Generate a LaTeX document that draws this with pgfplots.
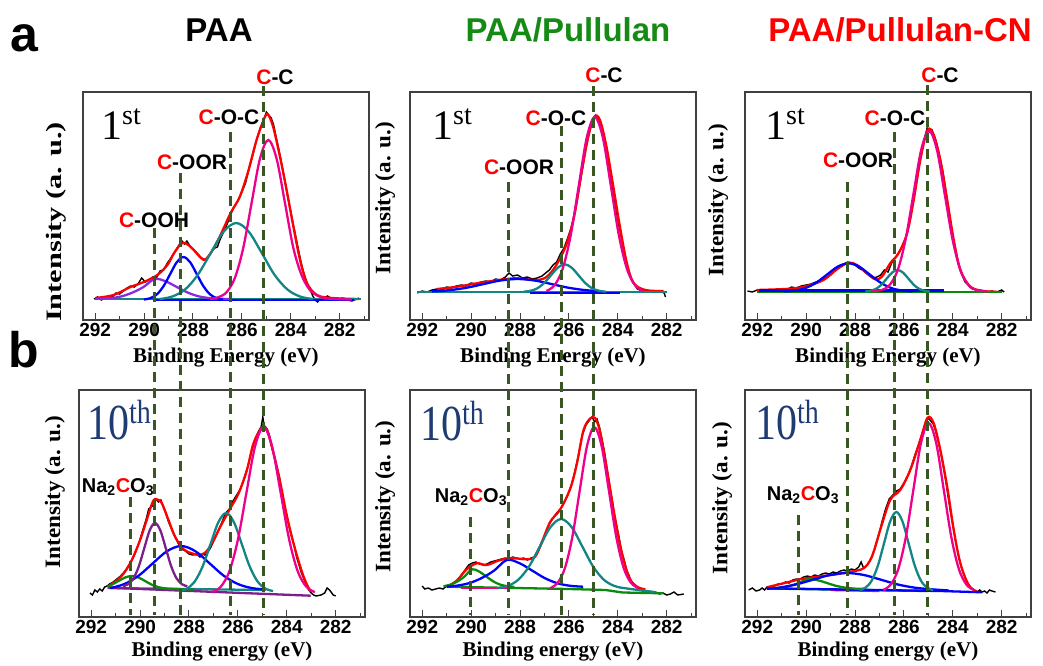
\documentclass[border=0pt]{standalone}
\usepackage{pgfplots}
\pgfplotsset{compat=1.18}
\usepackage{graphicx}
\usepackage{fontspec}
\setmainfont{Liberation Sans}
\newfontfamily\tnr{Liberation Serif}
\definecolor{dgreen}{HTML}{385723}
\definecolor{tealc}{HTML}{138585}
\definecolor{purp}{HTML}{8A2BE2}
\definecolor{dpurp}{HTML}{7B1F8C}
\definecolor{grn}{HTML}{0A8A0A}
\definecolor{ttlgreen}{HTML}{158A15}
\definecolor{navyc}{HTML}{1F3B73}
\newcommand{\lab}[1]{\fontsize{21bp}{21bp}\selectfont\bfseries\textcolor{red}{C}-#1}
\newcommand{\nac}{\fontsize{20bp}{20bp}\selectfont\bfseries Na\textsubscript{2}\textcolor{red}{C}O\textsubscript{3}}
\newcommand{\first}{\tnr\fontsize{42bp}{42bp}\selectfont 1\raisebox{15bp}{\fontsize{28bp}{28bp}\selectfont st}}
\newcommand{\tenth}{\textcolor{navyc}{\scalebox{1}[1.2]{\tnr\fontsize{42bp}{42bp}\selectfont 10\raisebox{14bp}{\fontsize{28bp}{28bp}\selectfont th}}}}
\pgfplotsset{
  panel/.style={scale only axis, width=286bp, height=228bp, x dir=reverse,
    xmin=280.8, xmax=292.5, ymin=0, ymax=228, ytick=\empty,
    xtick={282,284,286,288,290,292}, minor xtick={281,283,285,287,289,291},
    tick align=inside, xtick pos=left, major tick length=7bp, minor tick length=4bp,
    axis line style={line width=1.2bp, black!75}, every tick/.style={line width=1bp, black!75},
    xticklabel style={font=\fontsize{19bp}{19bp}\selectfont\bfseries},
    /pgf/number format/assume math mode=true,
    /pgf/number format/set thousands separator={},
    xlabel style={font=\tnr\bfseries\fontsize{21bp}{21bp}\selectfont, anchor=center},
    ylabel style={font=\tnr\bfseries\fontsize{22bp}{22bp}\selectfont, anchor=center},
    ylabel={\scalebox{1.05}[1]{Intensity (a. u.)}}},
  raw/.style={black, line width=1.4bp},
  fit/.style={line width=2.3bp, smooth, tension=0.55},
  base/.style={line width=2.3bp},
}
\begin{document}
\begin{tikzpicture}
\path[use as bounding box] (0,0) rectangle (1043bp,-666bp);

% ---------- Panel 1: PAA 1st
\begin{axis}[panel, at={(83bp,-92bp)}, anchor=north west,
  xlabel={Binding Energy (eV)}, xlabel style={at={(axis description cs:0.5,-0.165)}},
  ylabel={\scalebox{1.38}[1]{Intensity (a. u.)}},
  ylabel style={at={(axis description cs:-0.092,0.43)}}]
\addplot[raw] coordinates {(292.05,21)(291.9,23)(291.75,20)(291.6,22)(291.45,24)(291.3,23)(291.15,27)(291.0,26)(290.85,29)(290.7,32)(290.55,34)(290.4,33)(290.25,36)(290.1,42)(289.95,38)(289.8,40)(289.65,43)(289.5,42)(289.35,49)(289.2,50)(289.05,57)(288.9,62)(288.75,68)(288.6,74)(288.45,79)(288.35,76)(288.25,79)(288.1,73)(287.95,70)(287.8,66)(287.65,62)(287.5,60)(287.35,64)(287.2,70)(287.1,72)(287.0,73)(286.9,80)(286.75,88)(286.6,96)(286.45,106)(286.3,114)(286.15,120)(286.0,128)(285.85,137)(285.7,152)(285.55,165)(285.4,180)(285.25,192)(285.1,200)(285.0,208)(284.9,205)(284.8,202)(284.7,195)(284.6,183)(284.5,172)(284.4,160)(284.3,147)(284.2,133)(284.1,120)(284.0,108)(283.9,96)(283.8,84)(283.7,72)(283.6,60)(283.5,50)(283.4,42)(283.3,35)(283.2,30)(283.1,24)(283.0,20)(282.9,18)(282.8,21)(282.7,20)(282.5,24)(282.3,21)(282.1,20)(281.9,22)(281.7,20)(281.5,19)(281.3,21)(281.2,22)};
\addplot[red, fit] coordinates {(292.0,22)(291.25,25)(290.56,33)(290.01,38)(289.46,45)(289.05,55)(288.77,67)(288.43,77)(288.09,73)(287.67,62)(287.47,61)(287.12,73)(286.78,90)(286.44,108)(286.09,123)(285.75,148)(285.40,180)(285.06,203)(284.92,205)(284.72,193)(284.44,163)(284.17,130)(283.89,93)(283.62,60)(283.34,37)(282.93,25)(282.31,22)(281.21,21)};
\addplot[tealc, base] coordinates {(292.0,21)(281.14,21)};
\addplot[blue, base] coordinates {(289.6,20)(281.4,20)};
\addplot[purp, fit] coordinates {(292.0,21.1)(291.37,21.9)(290.92,23.7)(290.47,27.5)(290.02,33.1)(289.57,41)(289.12,38.7)(288.67,33.1)(288.22,27.5)(287.77,23.7)(287.32,21.9)(286.87,21.2)(286.4,21)};
\addplot[blue, fit] coordinates {(290.01,20.5)(289.74,21.9)(289.47,25.8)(289.20,34.0)(288.93,46.1)(288.66,57.9)(288.39,63)(288.12,57.9)(287.85,46.1)(287.58,34.0)(287.31,25.8)(287.04,21.9)(286.77,20.5)};
\addplot[tealc, fit] coordinates {(289.38,20.9)(288.86,23.4)(288.33,30.4)(287.81,45)(287.28,66.7)(286.76,88)(286.23,97)(285.71,88)(285.18,66.7)(284.66,45)(284.13,30.4)(283.61,23.4)(283.08,20.9)};
\addplot[magenta, fit] coordinates {(287.3,21)(286.96,22.8)(286.62,28.0)(286.28,42.5)(285.94,72.6)(285.60,117.4)(285.26,161.3)(284.92,180)(284.58,161.3)(284.24,117.4)(283.90,72.6)(283.56,45)(283.22,30)(282.88,24)(282.5,21.5)(281.5,20.5)};
\end{axis}

% ---------- Panel 2: PAA/Pullulan 1st
\begin{axis}[panel, at={(410bp,-92bp)}, anchor=north west,
  xlabel={Binding Energy (eV)}, xlabel style={at={(axis description cs:0.5,-0.165)}},
  ylabel style={at={(axis description cs:-0.087,0.535)}}]
\addplot[raw] coordinates {(292.2,27)(292.0,29)(291.8,28)(291.6,30)(291.4,31)(291.2,30)(291.0,33)(290.8,32)(290.6,34)(290.4,35)(290.2,34)(290.0,37)(289.8,36)(289.6,38)(289.4,39)(289.2,38)(289.0,41)(288.8,40)(288.6,43)(288.45,47)(288.3,44)(288.1,45)(287.9,42)(287.7,43)(287.5,41)(287.3,42)(287.1,44)(286.95,47)(286.8,50)(286.65,55)(286.5,58)(286.35,66)(286.2,72)(286.05,82)(285.9,93)(285.75,108)(285.6,128)(285.45,150)(285.3,172)(285.15,190)(285.0,202)(284.9,205)(284.8,201)(284.7,197)(284.6,188)(284.5,176)(284.4,160)(284.3,145)(284.2,130)(284.1,115)(284.0,100)(283.9,88)(283.8,75)(283.7,62)(283.6,52)(283.5,45)(283.4,38)(283.3,35)(283.2,31)(283.0,29)(282.8,30)(282.6,28)(282.4,29)(282.2,28)(282.1,27)(282.05,23)};
\addplot[red, fit] coordinates {(291.40,31)(290.57,33.3)(289.61,37.3)(288.65,40.7)(288.10,41.7)(287.41,40)(287.0,41.7)(286.65,50)(286.31,64)(286.04,80)(285.76,106.7)(285.49,146.7)(285.21,183)(284.96,203)(284.73,200)(284.46,173)(284.18,133)(283.91,93)(283.63,57)(283.35,37)(282.87,30)(282.12,29)};
\addplot[tealc, base] coordinates {(292.2,28)(282.0,28)};
\addplot[blue, base] coordinates {(287.6,27)(283.9,27)};
\addplot[blue, fit] coordinates {(291.6,28.6)(290.9,29.8)(290.2,32.2)(289.5,35.9)(288.8,39.5)(288.1,41)(287.4,39.5)(286.7,35.9)(286.0,32.2)(285.3,29.8)(284.6,28.6)};
\addplot[tealc, fit] coordinates {(287.85,28.3)(287.57,29.2)(287.29,31.7)(287.01,37.0)(286.73,44.8)(286.45,52.4)(286.17,55.7)(285.89,52.4)(285.61,44.8)(285.33,37.0)(285.05,31.7)(284.77,29.2)(284.49,28.3)};
\addplot[magenta, fit] coordinates {(286.92,29.0)(286.59,34.7)(286.26,50.8)(285.93,84.1)(285.60,133.7)(285.27,182.3)(284.94,203)(284.61,182.3)(284.28,133.7)(283.95,84.1)(283.62,50.8)(283.29,34.7)(282.96,29.0)};
\end{axis}

% ---------- Panel 3: PAA/Pullulan-CN 1st
\begin{axis}[panel, at={(745bp,-92bp)}, anchor=north west,
  xlabel={Binding Energy (eV)}, xlabel style={at={(axis description cs:0.5,-0.165)}},
  ylabel style={at={(axis description cs:-0.094,0.526)}}]
\addplot[raw] coordinates {(292.4,29)(292.2,28)(292.0,30)(291.8,29)(291.6,28)(291.4,30)(291.2,29)(291.0,31)(290.8,30)(290.6,33)(290.4,32)(290.2,34)(290.0,35)(289.8,36)(289.6,38)(289.4,40)(289.2,42)(289.0,45)(288.8,50)(288.6,53)(288.45,56)(288.3,58)(288.15,57)(288.0,55)(287.85,52)(287.7,50)(287.55,47)(287.4,44)(287.25,42)(287.1,43)(286.95,45)(286.8,50)(286.65,48)(286.5,57)(286.35,62)(286.2,68)(286.05,74)(285.9,84)(285.75,100)(285.6,120)(285.45,142)(285.3,165)(285.15,182)(285.05,192)(284.95,188)(284.85,190)(284.7,180)(284.6,170)(284.5,160)(284.4,148)(284.3,132)(284.2,116)(284.1,98)(284.0,84)(283.9,72)(283.8,60)(283.7,50)(283.6,44)(283.5,38)(283.4,36)(283.3,33)(283.2,31)(283.0,30)(282.8,29)(282.6,28)(282.4,29)(282.2,28)(282.0,30)(281.9,28)};
\addplot[red, fit] coordinates {(292.02,30)(290.66,31.3)(289.97,34)(289.29,40)(288.74,50.7)(288.27,57.3)(287.92,55)(287.51,46.7)(287.17,40.7)(286.90,43.3)(286.56,56.7)(286.22,66.7)(285.87,86.7)(285.60,120)(285.33,160)(285.03,190)(284.78,185)(284.51,160)(284.23,120)(283.96,80)(283.69,50)(283.28,33.3)(282.73,29)(282.18,28.3)};
\addplot[grn, base] coordinates {(292.0,28.3)(282.0,28.3)};
\addplot[blue, base] coordinates {(291.93,29.5)(284.35,29.5)};
\addplot[blue, fit] coordinates {(290.88,28.6)(290.445,29.5)(290.01,32.1)(289.575,37.5)(289.14,45.5)(288.705,53.4)(288.27,56.7)(287.835,53.4)(287.40,45.5)(286.965,37.5)(286.53,32.1)(286.095,29.5)(285.66,28.6)};
\addplot[tealc, fit] coordinates {(287.58,28.5)(287.36,29.3)(287.14,31.2)(286.92,35.3)(286.70,41.5)(286.48,47.5)(286.26,50)(286.04,47.5)(285.82,41.5)(285.60,35.3)(285.38,31.2)(285.16,29.3)(284.94,28.5)};
\addplot[magenta, fit] coordinates {(287.3,29)(286.89,30.1)(286.57,35.4)(286.25,50.1)(285.93,80.6)(285.61,125.9)(285.29,170.4)(284.97,189.3)(284.65,170.4)(284.33,125.9)(284.01,80.6)(283.69,50.1)(283.37,35.4)(283.05,30.1)(282.6,28.5)};
\end{axis}

% ---------- Panel 4: PAA 10th
\begin{axis}[panel, height=227bp, ymax=227, at={(79bp,-390bp)}, anchor=north west,
  xlabel={Binding energy (eV)}, xlabel style={at={(axis description cs:0.5,-0.154)}},
  ylabel style={at={(axis description cs:-0.084,0.55)}}]
\addplot[raw] coordinates {(292.05,24)(291.95,22)(291.85,27)(291.75,25)(291.65,28)(291.55,26)(291.45,30)(291.35,31)(291.25,33)(291.1,35)(290.95,38)(290.8,41)(290.65,45)(290.5,50)(290.35,56)(290.2,64)(290.05,74)(289.9,86)(289.75,98)(289.65,108)(289.55,110)(289.45,112)(289.35,118)(289.25,115)(289.15,117)(289.05,110)(288.95,104)(288.85,96)(288.75,90)(288.6,82)(288.45,74)(288.3,68)(288.15,66)(288.0,63)(287.85,62)(287.7,63)(287.55,60)(287.45,63)(287.35,62)(287.2,66)(287.1,70)(286.95,78)(286.8,86)(286.65,95)(286.5,104)(286.35,108)(286.2,116)(286.05,122)(285.9,128)(285.75,138)(285.6,150)(285.45,165)(285.3,178)(285.15,186)(285.05,190)(284.98,200)(284.9,187)(284.8,188)(284.7,181)(284.6,168)(284.5,160)(284.4,150)(284.3,140)(284.2,124)(284.1,112)(284.0,102)(283.9,90)(283.8,80)(283.7,72)(283.6,60)(283.5,52)(283.4,44)(283.3,38)(283.2,32)(283.1,27)(283.0,24)(282.9,22)(282.8,21)(282.6,22)(282.45,24)(282.35,29)(282.25,27)(282.1,22)(282.0,21)};
\addplot[red, fit] coordinates {(291.34,30.3)(291.02,35.3)(290.68,43.3)(290.34,57)(290.0,77)(289.73,97)(289.48,115.3)(289.32,117.7)(289.11,113.7)(288.84,97)(288.57,80.3)(288.22,67.7)(287.88,63.7)(287.61,62)(287.34,64.3)(287.06,73.7)(286.72,90.3)(286.31,108.7)(285.97,123.7)(285.63,147)(285.36,173.7)(285.01,189.7)(284.81,187)(284.54,163.7)(284.26,133.7)(283.99,100.3)(283.65,67)(283.31,40.3)(283.03,25.3)};
\addplot[tealc, base] coordinates {(291.3,29)(285.0,27)};
\addplot[dpurp, base] coordinates {(291.33,29.3)(283.02,21.3)};
\addplot[grn, fit] coordinates {(291.3,30)(291.165,32.2)(290.89,35.9)(290.615,39.5)(290.34,41)(290.065,39.5)(289.79,35.9)(289.515,32.2)(289.24,29.8)(288.965,28.6)(288.69,28.1)(287.8,27.5)};
\addplot[blue, fit] coordinates {(291.22,28.9)(290.64,33.0)(290.06,41.3)(289.48,53.7)(288.90,65.8)(288.32,71)(287.74,65.8)(287.16,53.7)(286.58,41.3)(286.00,33.0)(285.42,28.9)(284.84,27.5)};
\addplot[dpurp, fit] coordinates {(290.71,30.7)(290.49,32.8)(290.27,38.7)(290.05,50.8)(289.83,68.8)(289.61,86.5)(289.39,94)(289.17,86.5)(288.95,68.8)(288.73,50.8)(288.51,38.7)(288.29,32.8)(288.07,30.7)};
\addplot[tealc, fit] coordinates {(288.40,25.9)(288.08,28.5)(287.76,35.7)(287.44,50.7)(287.12,72.9)(286.80,94.7)(286.48,104)(286.16,94.7)(285.84,72.9)(285.52,50.7)(285.20,35.7)(284.88,28.5)(284.56,25.9)};
\addplot[magenta, fit] coordinates {(287.05,24.9)(286.70,30.3)(286.35,45.6)(286.00,77.2)(285.65,124.3)(285.30,170.4)(284.95,190)(284.60,170.4)(284.25,124.3)(283.90,77.2)(283.55,45.6)(283.20,30.3)(282.85,24.9)};
\end{axis}

% ---------- Panel 5: PAA/Pullulan 10th
\begin{axis}[panel, height=227bp, ymax=227, at={(410bp,-390bp)}, anchor=north west,
  xlabel={Binding energy (eV)}, xlabel style={at={(axis description cs:0.5,-0.154)}},
  ylabel style={at={(axis description cs:-0.087,0.53)}}]
\addplot[raw] coordinates {(292.0,31)(291.9,28)(291.75,29)(291.6,27)(291.45,28)(291.3,29)(291.15,28)(291.0,31)(290.85,32)(290.7,34)(290.55,37)(290.4,42)(290.25,47)(290.1,52)(289.95,54)(289.8,55)(289.65,53)(289.5,52)(289.35,53)(289.2,55)(289.05,56)(288.9,57)(288.75,58)(288.6,59)(288.45,58)(288.3,60)(288.15,59)(288.0,58)(287.85,59)(287.7,57)(287.55,59)(287.4,60)(287.25,66)(287.1,74)(286.95,84)(286.8,93)(286.65,99)(286.5,104)(286.35,108)(286.2,114)(286.05,122)(285.9,132)(285.75,146)(285.6,163)(285.45,182)(285.3,192)(285.15,197)(285.05,200)(284.95,195)(284.85,198)(284.75,190)(284.65,178)(284.55,166)(284.45,150)(284.35,134)(284.25,120)(284.15,104)(284.05,92)(283.95,80)(283.85,66)(283.75,58)(283.65,48)(283.55,42)(283.45,36)(283.35,33)(283.25,30)(283.15,28)(283.05,27)(282.9,25)(282.75,26)(282.6,24)(282.45,25)(282.3,23)(282.15,24)(282.0,22)(281.85,23)(281.7,25)(281.55,22)(281.3,23)};
\addplot[red, fit] coordinates {(290.99,30.3)(290.59,36.3)(290.18,47.7)(289.77,53.7)(289.36,52)(288.81,57)(288.27,58.7)(287.72,57.7)(287.38,60.3)(287.10,75.3)(286.76,95.3)(286.35,107.7)(285.94,128.7)(285.67,153.7)(285.40,187)(285.12,198.7)(284.92,198.7)(284.71,183.7)(284.44,147)(284.17,107)(283.89,70.3)(283.55,40.3)(283.21,30.3)(282.87,27.7)};
\addplot[grn, base] coordinates {(290.99,30.3)(286.0,28)(284.5,27)(283.8,24.5)(282.12,23.7)};
\addplot[magenta, base] coordinates {(290.4,29)(288.5,29)};
\addplot[grn, fit] coordinates {(291.13,30.8)(290.84,32.4)(290.55,35.7)(290.26,40.7)(289.97,47.7)(289.68,45.6)(289.39,40.7)(289.10,35.7)(288.81,32.4)(288.52,30.8)(288.23,30.2)};
\addplot[blue, fit] coordinates {(291.0,30.3)(290.62,31.2)(290.10,33.7)(289.58,38.8)(289.06,46.4)(288.54,57)(288.02,53.8)(287.50,46.4)(286.98,38.8)(286.46,33.7)(285.94,31.2)(285.42,30.3)};
\addplot[tealc, fit] coordinates {(288.93,28.8)(288.495,31.1)(288.06,37.5)(287.625,50.7)(287.19,70.5)(286.755,89.8)(286.32,98)(285.885,89.8)(285.45,70.5)(285.015,50.7)(284.58,37.5)(284.145,31.1)(283.71,28.8)(282.5,25)};
\addplot[magenta, fit] coordinates {(286.76,28.8)(286.46,34.2)(286.16,49.1)(285.86,79.9)(285.56,125.9)(285.26,170.8)(284.96,190)(284.66,170.8)(284.36,125.9)(284.06,79.9)(283.76,49.1)(283.46,34.2)(283.16,28.8)};
\end{axis}

% ---------- Panel 6: PAA/Pullulan-CN 10th
\begin{axis}[panel, height=227bp, ymax=227, at={(745bp,-390bp)}, anchor=north west,
  xlabel={Binding energy (eV)}, xlabel style={at={(axis description cs:0.5,-0.154)}},
  ylabel style={at={(axis description cs:-0.08,0.524)}}]
\addplot[raw] coordinates {(292.35,27)(292.2,29)(292.05,26)(291.9,27)(291.8,29)(291.7,27)(291.6,30)(291.45,29)(291.3,31)(291.15,33)(291.0,33)(290.85,35)(290.7,34)(290.55,37)(290.4,38)(290.25,38)(290.1,40)(289.95,41)(289.8,40)(289.65,42)(289.5,41)(289.35,43)(289.2,44)(289.05,43)(288.9,45)(288.75,44)(288.6,46)(288.45,47)(288.3,46)(288.15,48)(288.0,47)(287.85,50)(287.75,55)(287.65,49)(287.5,52)(287.35,58)(287.2,68)(287.05,80)(286.9,95)(286.75,108)(286.6,118)(286.45,122)(286.3,126)(286.15,128)(286.0,134)(285.85,141)(285.7,150)(285.55,162)(285.4,172)(285.25,184)(285.1,195)(285.0,199)(284.9,196)(284.8,193)(284.7,186)(284.6,176)(284.5,166)(284.4,152)(284.3,138)(284.2,122)(284.1,106)(284.0,92)(283.9,78)(283.8,65)(283.7,55)(283.6,46)(283.5,40)(283.4,34)(283.3,30)(283.2,28)(283.1,26)(283.0,25)(282.9,27)(282.8,25)(282.7,26)(282.6,24)(282.5,27)(282.4,26)(282.25,25)};
\addplot[red, fit] coordinates {(291.61,29.7)(290.93,33.7)(290.25,37.7)(289.56,40.3)(288.88,42.3)(288.20,45.3)(287.65,48.7)(287.31,60.3)(286.97,87)(286.56,117)(286.15,127)(285.74,147)(285.33,177)(285.03,199.3)(284.78,193.7)(284.51,167)(284.23,130.3)(283.96,87)(283.69,53.7)(283.35,32)(283.0,25.3)};
\addplot[grn, base] coordinates {(291.6,28.5)(285.0,26)};
\addplot[magenta, base] coordinates {(289.0,27)(287.0,26)};
\addplot[blue, base] coordinates {(291.61,28.7)(284.5,26)(282.8,24.7)};
\addplot[grn, fit] coordinates {(291.41,28.4)(291.035,29.4)(290.66,31.2)(290.285,34.1)(289.91,38)(289.535,36.8)(289.16,34.1)(288.785,31.2)(288.41,29.4)(288.035,28.4)(287.66,28.1)};
\addplot[blue, fit] coordinates {(291.61,28.2)(291.11,29.3)(290.415,32.5)(289.72,37.3)(289.025,42.0)(288.33,44)(287.635,42.0)(286.94,37.3)(286.245,32.5)(285.55,29.3)(284.855,27.7)(284.16,26.5)};
\addplot[tealc, fit] coordinates {(287.81,26.9)(287.56,29.5)(287.31,36.7)(287.06,51.7)(286.81,73.9)(286.56,95.7)(286.31,105)(286.06,95.7)(285.81,73.9)(285.56,51.7)(285.31,36.7)(285.06,29.5)(284.81,26.9)};
\addplot[magenta, fit] coordinates {(286.85,26.9)(286.54,32.4)(286.23,47.9)(285.92,79.9)(285.61,127.5)(285.30,174.1)(284.99,194)(284.68,174.1)(284.37,127.5)(284.06,79.9)(283.75,47.9)(283.44,32.4)(283.13,26.9)};
\end{axis}

% ---------- annotations (pixel coordinates)
\begin{scope}[x=1bp, y=-1bp]
\tikzset{dl/.style={dgreen, line width=3bp, dash pattern=on 10bp off 6bp}}
% dashed guide lines
\draw[dl] (130,497) -- (130,615);
\draw[dl] (154,228) -- (154,615);
\draw[dl] (180,173) -- (180,615);
\draw[dl] (230,132) -- (230,615);
\draw[dl] (263,86) -- (263,615);
\draw[dl] (470,517) -- (470,615);
\draw[dl] (508,182) -- (508,615);
\draw[dl] (561,126) -- (561,615);
\draw[dl] (593,86) -- (593,615);
\draw[dl] (798,515) -- (798,615);
\draw[dl] (847,182) -- (847,615);
\draw[dl] (894,132) -- (894,615);
\draw[dl] (927,85) -- (927,615);
% titles
\node[font=\fontsize{33bp}{33bp}\selectfont\bfseries] at (219,30) {PAA};
\node[font=\fontsize{33bp}{33bp}\selectfont\bfseries, text=ttlgreen] at (568,30) {PAA/Pullulan};
\node[font=\fontsize{33bp}{33bp}\selectfont\bfseries, text=red] at (900,30) {PAA/Pullulan-CN};
\node[font=\fontsize{50bp}{50bp}\selectfont\bfseries] at (24,38) {a};
\node[font=\fontsize{50bp}{50bp}\selectfont\bfseries] at (24,350) {b};
% peak labels
\node at (275,77) {\lab{C}};
\node at (229,117) {\lab{O-C}};
\node at (192,162) {\lab{OOR}};
\node at (154,220) {\lab{OOH}};
\node at (604,75) {\lab{C}};
\node at (556,118) {\lab{O-C}};
\node at (519,167) {\lab{OOR}};
\node at (940,75) {\lab{C}};
\node at (895,118) {\lab{O-C}};
\node at (858,160) {\lab{OOR}};
\node at (118,487) {\nac};
\node at (471,497) {\nac};
\node at (803,495) {\nac};
% cycle labels
\node at (121,124) {\first};
\node at (452,124) {\first};
\node at (785,124) {\first};
\node at (119,420) {\tenth};
\node at (452,421) {\tenth};
\node at (787,420) {\tenth};
\end{scope}
\end{tikzpicture}
\end{document}
